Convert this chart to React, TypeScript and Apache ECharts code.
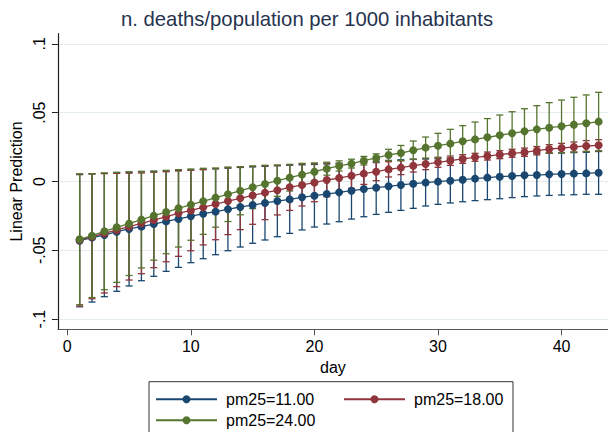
import React, { useEffect, useRef } from 'react';
import * as echarts from 'echarts';

const days = [1, 2, 3, 4, 5, 6, 7, 8, 9, 10, 11, 12, 13, 14, 15, 16, 17, 18, 19, 20, 21, 22, 23, 24, 25, 26, 27, 28, 29, 30, 31, 32, 33, 34, 35, 36, 37, 38, 39, 40, 41, 42, 43];

const seriesNames = ['pm25=11.00', 'pm25=18.00', 'pm25=24.00'];

const blueMean = [-0.0430, -0.0408, -0.0389, -0.0365, -0.0345, -0.0328, -0.0309, -0.0290, -0.0272, -0.0253, -0.0234, -0.0219, -0.0202, -0.0185, -0.0171, -0.0156, -0.0142, -0.0130, -0.0115, -0.0103, -0.0091, -0.0079, -0.0067, -0.0055, -0.0045, -0.0035, -0.0025, -0.0016, -0.0008, -0.0001, 0.0006, 0.0013, 0.0021, 0.0028, 0.0035, 0.0040, 0.0045, 0.0047, 0.0052, 0.0055, 0.0057, 0.0059, 0.0064];
const blueLo = [-0.0910, -0.0876, -0.0837, -0.0798, -0.0759, -0.0721, -0.0689, -0.0653, -0.0624, -0.0590, -0.0561, -0.0532, -0.0503, -0.0476, -0.0449, -0.0425, -0.0401, -0.0377, -0.0352, -0.0331, -0.0309, -0.0292, -0.0273, -0.0256, -0.0239, -0.0224, -0.0210, -0.0195, -0.0178, -0.0166, -0.0156, -0.0147, -0.0139, -0.0132, -0.0125, -0.0117, -0.0110, -0.0105, -0.0101, -0.0098, -0.0096, -0.0093, -0.0093];
const blueHi = [0.0050, 0.0056, 0.0060, 0.0064, 0.0067, 0.0070, 0.0073, 0.0076, 0.0080, 0.0084, 0.0088, 0.0092, 0.0097, 0.0102, 0.0106, 0.0110, 0.0114, 0.0118, 0.0121, 0.0124, 0.0127, 0.0132, 0.0137, 0.0143, 0.0148, 0.0153, 0.0158, 0.0162, 0.0163, 0.0166, 0.0169, 0.0173, 0.0180, 0.0187, 0.0193, 0.0197, 0.0200, 0.0202, 0.0205, 0.0207, 0.0210, 0.0212, 0.0218];

const redMean = [-0.0425, -0.0401, -0.0377, -0.0352, -0.0328, -0.0304, -0.0280, -0.0256, -0.0231, -0.0210, -0.0188, -0.0164, -0.0142, -0.0122, -0.0101, -0.0081, -0.0064, -0.0042, -0.0025, -0.0008, 0.0011, 0.0025, 0.0042, 0.0057, 0.0071, 0.0088, 0.0101, 0.0115, 0.0127, 0.0139, 0.0151, 0.0164, 0.0176, 0.0185, 0.0195, 0.0205, 0.0212, 0.0224, 0.0236, 0.0243, 0.0251, 0.0258, 0.0263];
const redLo = [-0.0905, -0.0852, -0.0810, -0.0764, -0.0716, -0.0670, -0.0626, -0.0583, -0.0544, -0.0503, -0.0461, -0.0423, -0.0386, -0.0350, -0.0311, -0.0277, -0.0243, -0.0210, -0.0178, -0.0147, -0.0110, -0.0081, -0.0050, -0.0021, 0.0006, 0.0033, 0.0050, 0.0069, 0.0086, 0.0103, 0.0117, 0.0132, 0.0147, 0.0156, 0.0166, 0.0176, 0.0183, 0.0193, 0.0205, 0.0210, 0.0214, 0.0219, 0.0222];
const redHi = [0.0055, 0.0056, 0.0057, 0.0059, 0.0060, 0.0062, 0.0067, 0.0071, 0.0077, 0.0082, 0.0086, 0.0094, 0.0100, 0.0105, 0.0110, 0.0114, 0.0117, 0.0122, 0.0126, 0.0129, 0.0132, 0.0132, 0.0134, 0.0134, 0.0137, 0.0144, 0.0151, 0.0161, 0.0168, 0.0176, 0.0185, 0.0195, 0.0205, 0.0214, 0.0224, 0.0234, 0.0243, 0.0254, 0.0268, 0.0277, 0.0287, 0.0297, 0.0304];

const greenMean = [-0.0420, -0.0394, -0.0362, -0.0333, -0.0306, -0.0277, -0.0248, -0.0222, -0.0195, -0.0168, -0.0144, -0.0117, -0.0093, -0.0067, -0.0042, -0.0018, 0.0006, 0.0028, 0.0050, 0.0071, 0.0093, 0.0113, 0.0130, 0.0151, 0.0171, 0.0193, 0.0207, 0.0227, 0.0246, 0.0260, 0.0275, 0.0292, 0.0306, 0.0321, 0.0336, 0.0350, 0.0365, 0.0379, 0.0391, 0.0401, 0.0413, 0.0423, 0.0435];
const greenLo = [-0.0895, -0.0843, -0.0786, -0.0733, -0.0683, -0.0628, -0.0572, -0.0525, -0.0476, -0.0427, -0.0384, -0.0332, -0.0291, -0.0242, -0.0197, -0.0154, -0.0108, -0.0069, -0.0032, 0.0007, 0.0046, 0.0076, 0.0098, 0.0120, 0.0141, 0.0152, 0.0152, 0.0160, 0.0169, 0.0170, 0.0171, 0.0178, 0.0180, 0.0185, 0.0189, 0.0193, 0.0201, 0.0207, 0.0209, 0.0210, 0.0214, 0.0217, 0.0222];
const greenHi = [0.0055, 0.0055, 0.0062, 0.0067, 0.0071, 0.0074, 0.0076, 0.0081, 0.0086, 0.0091, 0.0096, 0.0098, 0.0105, 0.0108, 0.0113, 0.0118, 0.0120, 0.0125, 0.0132, 0.0135, 0.0140, 0.0150, 0.0162, 0.0182, 0.0201, 0.0234, 0.0262, 0.0294, 0.0323, 0.0350, 0.0379, 0.0406, 0.0432, 0.0457, 0.0483, 0.0507, 0.0529, 0.0551, 0.0573, 0.0592, 0.0612, 0.0629, 0.0648];

const xTickValues = [0, 10, 20, 30, 40];
const yTickValues = [-0.1, -0.05, 0, 0.05, 0.1];
const yTickLabels = ['-.1', '-.05', '0', '.05', '.1'];

const COLORS = ['#1a476f', '#90353b', '#55752f'];
const FONT = '"Liberation Sans", Arial, Helvetica, sans-serif';

function ciSeries(name: string, lo: number[], hi: number[], color: string) {
  return {
    type: 'custom',
    name,
    silent: true,
    z: 2,
    data: days.map((d, i) => [d, lo[i], hi[i]]),
    encode: { x: 0, y: [1, 2] },
    renderItem: (_params: any, api: any) => {
      const x = api.value(0);
      const p1 = api.coord([x, api.value(1)]);
      const p2 = api.coord([x, api.value(2)]);
      const hw = 3.5;
      const style = { stroke: color, lineWidth: 1.3, fill: null };
      return {
        type: 'group',
        children: [
          { type: 'line', shape: { x1: p1[0], y1: p1[1], x2: p2[0], y2: p2[1] }, style },
          { type: 'line', shape: { x1: p1[0] - hw, y1: p1[1], x2: p1[0] + hw, y2: p1[1] }, style },
          { type: 'line', shape: { x1: p2[0] - hw, y1: p2[1], x2: p2[0] + hw, y2: p2[1] }, style },
        ],
      };
    },
  };
}

function lineSeries(name: string, vals: number[], color: string) {
  return {
    type: 'line',
    name,
    z: 3,
    data: days.map((d, i) => [d, vals[i]]),
    symbol: 'circle',
    symbolSize: 8,
    showSymbol: true,
    itemStyle: { color },
    lineStyle: { color, width: 1.3 },
  };
}

export default function App() {
  const ref = useRef<HTMLDivElement>(null);
  useEffect(() => {
    const chart = echarts.init(ref.current!, null, { renderer: 'svg' });
    const option: any = {
      animation: false,
      backgroundColor: '#ffffff',
      textStyle: { fontFamily: FONT },
      title: {
        text: 'n. deaths/population per 1000 inhabitants',
        left: 121,
        top: 9,
        padding: 0,
        textStyle: { fontFamily: FONT, fontSize: 20.3, fontWeight: 'normal', color: '#26334f' },
      },
      grid: { left: 51.7, top: 33.7, width: 559.7, height: 295.6, containLabel: false },
      xAxis: {
        type: 'value',
        min: -0.76,
        max: 43.76,
        name: 'day',
        nameLocation: 'middle',
        nameGap: 25,
        nameTextStyle: { fontFamily: FONT, fontSize: 16, color: '#000' },
        axisLine: { show: true, onZero: false, lineStyle: { color: '#555', width: 1.2 } },
        axisTick: { show: true, length: 6, customValues: xTickValues, lineStyle: { color: '#555' } },
        axisLabel: { customValues: xTickValues, margin: 9, fontFamily: FONT, fontSize: 16, color: '#000' },
        splitLine: { show: false },
      },
      yAxis: {
        type: 'value',
        min: -0.1074,
        max: 0.1074,
        name: 'Linear Prediction',
        nameLocation: 'middle',
        nameRotate: 90,
        nameGap: 31,
        nameTextStyle: { fontFamily: FONT, fontSize: 16, color: '#000' },
        axisLine: { show: true, onZero: false, lineStyle: { color: '#222', width: 1.2 } },
        axisTick: { show: true, length: 6, customValues: yTickValues, lineStyle: { color: '#222' } },
        axisLabel: {
          customValues: yTickValues,
          rotate: 90,
          margin: 10,
          fontFamily: FONT,
          fontSize: 16,
          color: '#000',
          formatter: (v: number) => {
            const idx = yTickValues.findIndex((t) => Math.abs(t - v) < 1e-9);
            return idx >= 0 ? yTickLabels[idx] : '';
          },
        },
        splitLine: { show: true, lineStyle: { color: '#e3ecee', width: 1 } },
      },
      legend: {
        left: 149,
        top: 381.7,
        width: 356,
        orient: 'horizontal',
        padding: [9, 4, 9, 6],
        itemGap: 4,
        itemWidth: 61,
        itemHeight: 10,
        borderColor: '#333',
        borderWidth: 1,
        backgroundColor: '#fff',
        textStyle: { fontFamily: FONT, fontSize: 16, color: '#000', lineHeight: 17, width: 113, padding: [0, 0, 0, 4] },
        data: [
          { name: seriesNames[0] },
          { name: seriesNames[1], textStyle: { width: 95 } },
          { name: seriesNames[2] },
        ],
      },
      series: [
        ciSeries('ci1', blueLo, blueHi, COLORS[0]),
        ciSeries('ci2', redLo, redHi, COLORS[1]),
        ciSeries('ci3', greenLo, greenHi, COLORS[2]),
        lineSeries(seriesNames[0], blueMean, COLORS[0]),
        lineSeries(seriesNames[1], redMean, COLORS[1]),
        lineSeries(seriesNames[2], greenMean, COLORS[2]),
      ],
    };
    chart.setOption(option);
    return () => chart.dispose();
  }, []);
  return (
    <div
      ref={ref}
      style={{ position: 'fixed', left: 0, top: 0, width: 608, height: 432, background: '#fff' }}
    />
  );
}
